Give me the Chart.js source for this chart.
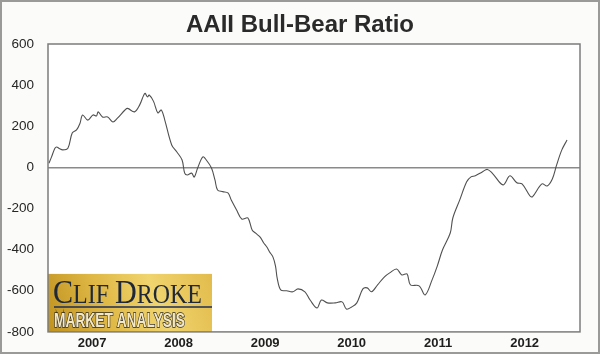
<!DOCTYPE html>
<html>
<head>
<meta charset="utf-8">
<script src="https://cdn.jsdelivr.net/npm/chart.js@4"></script>
<style>
  html, body { margin: 0; padding: 0; background: #fbfbf9; }
</style>
</head>
<body>
<canvas id="ratioChart" width="600" height="354"></canvas>
<script>
// position of each reading, in decimal years
const weekPos = [
  2007.00, 2007.03, 2007.07, 2007.09, 2007.12, 2007.16, 2007.22, 2007.27, 2007.32, 2007.36,
  2007.39, 2007.45, 2007.51, 2007.55, 2007.57, 2007.62, 2007.68, 2007.74, 2007.79, 2007.88,
  2007.91, 2007.99, 2008.05, 2008.11, 2008.14, 2008.16, 2008.21, 2008.26, 2008.30, 2008.34,
  2008.42, 2008.48, 2008.54, 2008.57, 2008.60, 2008.65, 2008.68, 2008.72, 2008.78, 2008.82,
  2008.88, 2008.92, 2008.95, 2009.01, 2009.07, 2009.11, 2009.17, 2009.23, 2009.30, 2009.35,
  2009.39, 2009.44, 2009.48, 2009.52, 2009.55, 2009.59, 2009.62, 2009.64, 2009.68, 2009.75,
  2009.82, 2009.88, 2009.96, 2010.02, 2010.10, 2010.15, 2010.22, 2010.31, 2010.39, 2010.44,
  2010.50, 2010.56, 2010.63, 2010.68, 2010.73, 2010.80, 2010.88, 2010.94, 2011.02, 2011.08,
  2011.14, 2011.18, 2011.28, 2011.35, 2011.43, 2011.49, 2011.55, 2011.64, 2011.67, 2011.75,
  2011.83, 2011.88, 2011.93, 2012.01, 2012.07, 2012.13, 2012.25, 2012.33, 2012.41, 2012.47,
  2012.56, 2012.59, 2012.70, 2012.76, 2012.82, 2012.87, 2012.93, 2012.99
];

const bullBearRatio = [
  20, 50, 93, 99, 92, 85, 93, 167, 182, 215,
  255, 230, 255, 250, 270, 245, 245, 221, 238, 279,
  287, 270, 304, 360, 343, 352, 321, 265, 279, 230,
  109, 75, 36, -28, -37, -28, -47, -3, 51, 36,
  -3, -61, -110, -118, -124, -160, -207, -251, -246, -304,
  -320, -338, -365, -387, -410, -435, -480, -540, -596, -600,
  -605, -591, -605, -645, -684, -645, -659, -659, -654, -689,
  -679, -659, -591, -586, -605, -571, -532, -513, -494, -523,
  -518, -571, -576, -620, -547, -480, -402, -319, -246, -158,
  -70, -46, -41, -22, -10, -30, -85, -41, -75, -80,
  -138, -143, -80, -90, -56, 12, 85, 133
];

const yearLabels = ["2007", "2008", "2009", "2010", "2011", "2012"];
const yearStarts = [2007, 2008, 2009, 2010, 2011, 2012];

// paper background + white plot area + frame
const paper = {
  id: "paper",
  beforeDraw(chart) {
    const { ctx, chartArea: a, width, height } = chart;
    ctx.save();
    ctx.fillStyle = "#fbfbf9";
    ctx.fillRect(0, 0, width, height);
    ctx.strokeStyle = "#9a9a98";
    ctx.lineWidth = 2;
    ctx.strokeRect(1, 1, width - 2, height - 2);
    ctx.fillStyle = "#ffffff";
    ctx.fillRect(a.left, a.top, a.right - a.left, a.bottom - a.top);
    ctx.restore();
  },
  afterDraw(chart) {
    const { ctx, chartArea: a } = chart;
    ctx.save();
    ctx.strokeStyle = "#7c7c7c";
    ctx.lineWidth = 1.5;
    ctx.strokeRect(a.left, a.top, a.right - a.left, a.bottom - a.top);
    ctx.restore();
  }
};

// gold "Clif Droke" badge, lower left
const badge = {
  id: "badge",
  afterDatasetsDraw(chart) {
    const { ctx, chartArea: a } = chart;
    const w = 164, h = 58;
    const x = a.left, y = a.bottom - h;
    ctx.save();
    const g = ctx.createLinearGradient(x, y + h, x + w, y);
    g.addColorStop(0, "#c0911f");
    g.addColorStop(0.35, "#dfb845");
    g.addColorStop(0.65, "#f0d46e");
    g.addColorStop(1, "#e2bb4c");
    ctx.fillStyle = g;
    ctx.fillRect(x, y, w, h);

    // small caps name
    const parts = [["C", 34], ["LIF", 27], [" ", 27], ["D", 34], ["ROKE", 27]];
    let total = 0;
    parts.forEach(p => {
      ctx.font = p[1] + "px 'Liberation Serif'";
      total += ctx.measureText(p[0]).width;
    });
    const s = 149 / total;
    ctx.save();
    ctx.translate(x + 5, y + 29);
    ctx.scale(s, 1);
    ctx.fillStyle = "#1f2838";
    ctx.textBaseline = "alphabetic";
    let cx = 0;
    parts.forEach(p => {
      ctx.font = p[1] + "px 'Liberation Serif'";
      ctx.fillText(p[0], cx, 0);
      cx += ctx.measureText(p[0]).width;
    });
    ctx.restore();

    ctx.strokeStyle = "#1c2c5a";
    ctx.lineWidth = 1.5;
    ctx.beginPath();
    ctx.moveTo(x + 6, y + 33);
    ctx.lineTo(x + w, y + 33);
    ctx.stroke();

    ctx.save();
    ctx.font = "bold 21px 'Liberation Sans Narrow', 'Liberation Sans'";
    const mw = ctx.measureText("MARKET ANALYSIS").width;
    ctx.translate(x + 6, y + 53);
    ctx.scale(131 / mw, 1);
    ctx.lineWidth = 1.6;
    ctx.strokeStyle = "#2a2822";
    ctx.fillStyle = "#f4e8c4";
    ctx.strokeText("MARKET ANALYSIS", 0, 0);
    ctx.fillText("MARKET ANALYSIS", 0, 0);
    ctx.restore();

    ctx.restore();
  }
};

const ctx = document.getElementById("ratioChart").getContext("2d");
const ratioChart = new Chart(ctx, {
  type: "line",
  data: {
    datasets: [
      {
        label: "AAII Bull-Bear Ratio",
        data: weekPos.map((x, i) => ({ x: x, y: bullBearRatio[i] })),
        borderColor: "#505050",
        borderWidth: 1.1,
        pointRadius: 0,
        tension: 0.35,
        fill: false,
      },
    ],
  },
  options: {
    responsive: false,
    animation: false,
    layout: { padding: 0 },
    plugins: {
      legend: { display: false },
      tooltip: { enabled: false },
      title: {
        display: true,
        text: "AAII Bull-Bear Ratio",
        color: "#2a2a2a",
        font: { family: "'Liberation Sans', Arial", size: 24, weight: "bold", lineHeight: 1.2 },
        padding: { top: 11, bottom: 4.2 },
      },
    },
    scales: {
      x: {
        type: "linear",
        min: 2006.99,
        max: 2013.14,
        afterBuildTicks: (scale) => {
          scale.ticks = yearStarts.map(y => ({ value: y + 0.5 }));
        },
        afterFit: (scale) => { scale.height = 22; },
        grid: { display: false, drawTicks: false },
        border: { display: false },
        ticks: {
          padding: 4,
          autoSkip: false,
          maxRotation: 0,
          color: "#1e1e1e",
          font: { family: "'Liberation Sans', Arial", size: 13, weight: "bold" },
          callback: (v, i) => yearLabels[i],
        },
      },
      y: {
        min: -800,
        max: 600,
        afterFit: (scale) => { scale.width = 48; },
        grid: {
          drawTicks: false,
          lineWidth: 1.5,
          color: (c) => (c.tick && c.tick.value === 0 ? "#8a8a8a" : "rgba(0,0,0,0)"),
        },
        border: { display: false },
        ticks: {
          stepSize: 200,
          padding: 14,
          color: "#262626",
          font: { family: "'Liberation Sans', Arial", size: 13.5 },
        },
      },
      // empty right margin so the title centres on the page
      yRight: {
        position: "right",
        min: -800,
        max: 600,
        afterFit: (scale) => { scale.width = 20; },
        grid: { display: false, drawTicks: false },
        border: { display: false },
        ticks: { display: false },
      },
    },
  },
  plugins: [paper, badge],
});
</script>
</body>
</html>
